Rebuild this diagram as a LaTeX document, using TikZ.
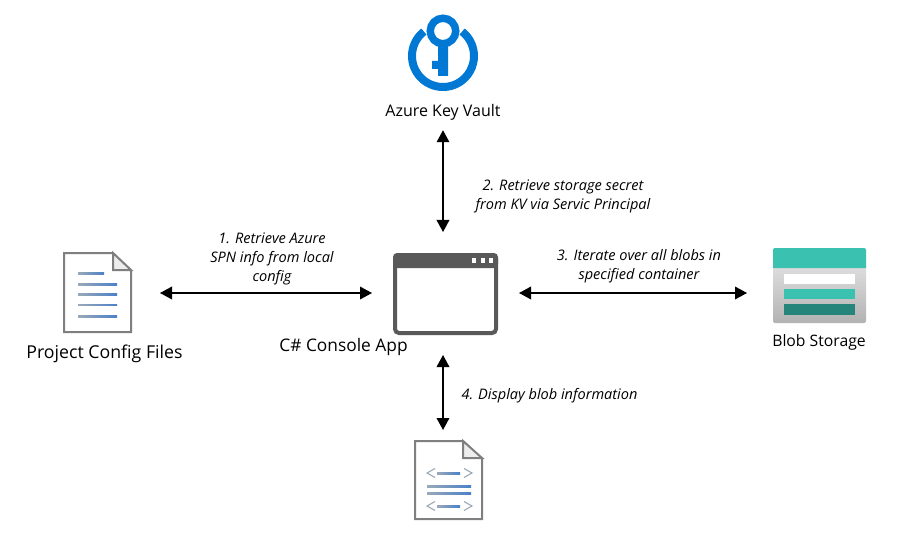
\documentclass[tikz,border=0pt]{standalone}
\usepackage{fontspec}
\setmainfont{Open Sans}
\usetikzlibrary{arrows.meta}
\definecolor{kvblue}{HTML}{0078D4}
\definecolor{appgray}{HTML}{595959}
\definecolor{docgray}{HTML}{7F7F7F}
\definecolor{foldgray}{HTML}{EDEDED}
\definecolor{blobteal}{HTML}{3BC1B0}
\definecolor{blobdark}{HTML}{25857A}
\definecolor{linegray}{HTML}{9AA9B8}
\definecolor{lineblue}{HTML}{4A80C8}
\tikzset{
  flow/.style={{Triangle[length=9pt,width=9.5pt]}-{Triangle[length=9pt,width=9.5pt]},line width=1pt,black},
  iconbox/.style={inner sep=0pt,outer sep=0pt},
  iconname/.style={font=\fontsize{12}{14}\selectfont,inner sep=0pt,text height=9pt,text depth=3pt},
  stepnote/.style={font=\fontsize{10.9}{14.25}\selectfont\itshape,align=center,inner sep=0pt},
  docline/.style={left color=linegray,right color=lineblue,draw=none},
  docedge/.style={draw=docgray,line width=1.5pt,fill=white,line join=miter},
  docmark/.style={draw=linegray,line width=0.8pt},
}
\begin{document}
\begin{tikzpicture}[x=0.75pt,y=-0.75pt]
    \useasboundingbox (0,0) rectangle (909,538);

    % key vault
    \draw [kvblue,line width=6pt] (443,56)++(232:31) arc (232:-52:31);
    \draw [kvblue,line width=5.6pt] (443,31) circle (12.75);
    \fill [kvblue] (438,45)--(448,45)--(448,76)--(438,76)--(438,69)--(432,69)--(432,61)--(438,61)--cycle;
    \node [iconname] (vaultname) at (443,112.5) {Azure Key Vault};

    % project config files
    \node [iconbox,minimum width=50.25pt,minimum height=59.25pt] (config) at (97.5,293) {};
    \draw [docedge] (64,253)--(113,253)--(131,271)--(131,332)--(64,332)--cycle;
    \draw [docedge,fill=foldgray] (113,253)--(113,270)--(131,270)--cycle;
    \fill [docline] (78,272.7) rectangle (104,274.5);
    \fill [docline] (78,283.7) rectangle (117,285.5);
    \fill [docline] (78,293.9) rectangle (117,295.7);
    \fill [docline] (78,304.5) rectangle (117,305.7);
    \fill [docline] (78,315.2) rectangle (117,317);
    \node [iconname,font=\fontsize{13.3}{16}\selectfont] (configname) at (104.5,354) {Project Config Files};

    % console app
    \node [iconbox,minimum width=78.75pt,minimum height=61.5pt] (app) at (445.5,294) {};
    \draw [appgray,line width=3pt,rounded corners=3pt,fill=white] (395,255) rectangle (496,333);
    \fill [appgray,rounded corners=3pt] (393,268)--(393,253)--(498,253)--(498,268)--cycle;
    \fill [white] (471.5,258) rectangle (475.5,262.5);
    \fill [white] (480.5,258) rectangle (484.5,262.5);
    \fill [white] (489,258) rectangle (493,262.5);
    \node [iconname,font=\fontsize{13}{16}\selectfont] (appname) at (343.5,347) {C\# Console App};

    % blob storage
    \node [iconbox,minimum width=69.75pt,minimum height=56.25pt,rounded corners=1.5pt,top color=black!8,bottom color=black!30] (blob) at (819.5,285.5) {};
    \fill [blobteal] (773,268)[rounded corners=1.5pt]--(773,248)--(866,248)[sharp corners]--(866,268)--cycle;
    \fill [white] (784,274) rectangle (855,284);
    \fill [blobteal] (784,289) rectangle (855,299);
    \fill [blobdark] (784,304) rectangle (855,315);
    \node [iconname,font=\fontsize{11.8}{14}\selectfont] (blobname) at (819,342) {Blob Storage};

    % output file
    \node [iconbox,minimum width=50.25pt,minimum height=58.5pt] (output) at (448.5,480) {};
    \draw [docedge] (415,441)--(463,441)--(482,459)--(482,519)--(415,519)--cycle;
    \draw [docedge,fill=foldgray] (463,441)--(463,458)--(482,458)--cycle;
    \draw [docmark] (435,468.5)--(427,473)--(435,477.5);
    \draw [docmark] (464,468.5)--(472,473)--(464,477.5);
    \draw [docmark] (435,501.5)--(427,506)--(435,510.5);
    \draw [docmark] (464,501.5)--(472,506)--(464,510.5);
    \fill [docline] (437,472) rectangle (460,474);
    \fill [docline] (427,485) rectangle (471,487);
    \fill [docline] (427,492) rectangle (471,494);
    \fill [docline] (437,505) rectangle (460,507);

    % connectors
    \draw [flow,shorten <=21.75pt,shorten >=15.75pt] (config.east)--(config.east -| app.west);
    \draw [flow,shorten <=15.75pt,shorten >=19.5pt] (config.east -| app.east)--(config.east -| blob.west);
    \draw [flow,shorten <=7.1pt,shorten >=15.75pt] (vaultname.south)--(vaultname.south |- app.north);
    \draw [flow,shorten <=15pt,shorten >=8.25pt] (vaultname.south |- app.south)--(vaultname.south |- output.north);

    % step labels
    \node [stepnote] (spnnote) at (272,258.5) {1. Retrieve Azure\\SPN info from local\\config};
    \node [stepnote] (secretnote) at (563,196) {2. Retrieve storage secret\\from KV via Servic Principal};
    \node [stepnote] (blobnote) at (639,266) {3. Iterate over all blobs in\\specified container};
    \node [stepnote] (displaynote) at (549.5,396) {4. Display blob information};
\end{tikzpicture}
\end{document}
